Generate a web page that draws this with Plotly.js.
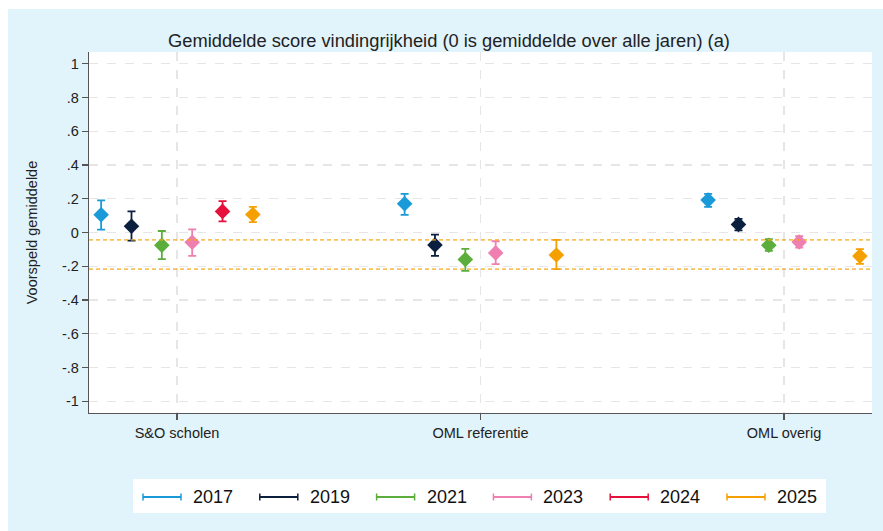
<!DOCTYPE html>
<html>
<head>
<meta charset="utf-8">
<script src="https://cdn.plot.ly/plotly-3.0.1.min.js"></script>
<style>html,body{margin:0;padding:0;background:#fff;}#chart{width:883px;height:531px;}</style>
</head>
<body>
<div id="chart"></div>
<script>
// ---- data ----
const categories = ["S&O scholen", "OML referentie", "OML overig"];
const years = ["2017", "2019", "2021", "2023", "2024", "2025"];
const colors = ["#1A9AD8", "#0B1F3F", "#5BAE3C", "#EE7FB0", "#E5113A", "#F5A000"];

// point estimates per year, per category
const est2017 = [0.105, 0.170, 0.192];
const est2019 = [0.037, -0.074, 0.048];
const est2021 = [-0.076, -0.160, -0.076];
const est2023 = [-0.058, -0.121, -0.056];
const est2024 = [0.125, null, null];
const est2025 = [0.107, -0.133, -0.140];

// lower bounds of the confidence intervals
const lo2017 = [0.017, 0.105, 0.152];
const lo2019 = [-0.048, -0.139, 0.013];
const lo2021 = [-0.158, -0.227, -0.109];
const lo2023 = [-0.139, -0.188, -0.090];
const lo2024 = [0.066, null, null];
const lo2025 = [0.062, -0.217, -0.186];

// upper bounds of the confidence intervals
const hi2017 = [0.190, 0.229, 0.229];
const hi2019 = [0.125, -0.013, 0.081];
const hi2021 = [0.009, -0.097, -0.040];
const hi2023 = [0.019, -0.052, -0.022];
const hi2024 = [0.186, null, null];
const hi2025 = [0.152, -0.044, -0.099];

const yTickVals = [1, 0.8, 0.6, 0.4, 0.2, 0, -0.2, -0.4, -0.6, -0.8, -1];
const yTickText = ["1", ".8", ".6", ".4", ".2", "0", "-.2", "-.4", "-.6", "-.8", "-1"];

const ests = [est2017, est2019, est2021, est2023, est2024, est2025];
const los = [lo2017, lo2019, lo2021, lo2023, lo2024, lo2025];
const his = [hi2017, hi2019, hi2021, hi2023, hi2024, hi2025];

const FONT = "Liberation Sans, Arial, sans-serif";
const catPos = categories.map((c, i) => i + 1);

const traces = years.map((yr, s) => {
  const off = (s - (years.length - 1) / 2) * 0.1;
  const est = ests[s];
  return {
    type: "scatter",
    mode: "markers",
    name: yr,
    showlegend: false,
    x: catPos.map(p => p + off),
    y: est,
    marker: {symbol: "diamond", size: 12, color: colors[s]},
    error_y: {
      type: "data", symmetric: false,
      array: est.map((v, i) => v == null ? null : his[s][i] - v),
      arrayminus: est.map((v, i) => v == null ? null : v - los[s][i]),
      color: colors[s], thickness: 1.8, width: 4
    },
    hoverinfo: "x+y"
  };
});

// figure geometry (pixels)
const W = 883, H = 531;
const mL = 89, mR = 11, mT = 52, mB = 118;
const pw = W - mL - mR, ph = H - mT - mB;
const px = x => (x - mL) / pw;
const py = y => (H - mB - y) / ph;

const shapes = [
  {type: "rect", xref: "paper", yref: "paper", x0: px(8), x1: px(W + 2), y0: py(9), y1: py(H + 2),
   fillcolor: "#E1F3FB", line: {width: 0}, layer: "below"},
  {type: "rect", xref: "paper", yref: "paper", x0: 0, x1: 1, y0: 0, y1: 1,
   fillcolor: "#FFFFFF", line: {width: 0}, layer: "below"},
  {type: "rect", xref: "paper", yref: "paper", x0: px(133), x1: px(826), y0: py(479), y1: py(513),
   fillcolor: "#FFFFFF", line: {width: 0}, layer: "below"}
];

// reference lines: CI of OML referentie 2025
const refIdx = years.indexOf("2025");
[los[refIdx][1], his[refIdx][1]].forEach(v => {
  shapes.push({type: "line", xref: "paper", yref: "y", x0: 0, x1: 1, y0: v, y1: v,
    line: {color: "rgba(245,165,20,0.7)", width: 1.6, dash: "4px,3px"}, layer: "above"});
});

// custom legend (error-bar style keys)
const annotations = [];
const legY = py(497);
const capH = 3.5 / ph;
years.forEach((yr, s) => {
  const x0 = 143 + s * 116.8, x1 = x0 + 38;
  shapes.push({type: "line", xref: "paper", yref: "paper", x0: px(x0), x1: px(x1), y0: legY, y1: legY,
    line: {color: colors[s], width: 1.8}});
  [x0, x1].forEach(xx => shapes.push({type: "line", xref: "paper", yref: "paper",
    x0: px(xx), x1: px(xx), y0: legY - capH, y1: legY + capH, line: {color: colors[s], width: 1.5}}));
  annotations.push({xref: "paper", yref: "paper", x: px(x1 + 10), y: legY, xanchor: "left", yanchor: "middle",
    text: yr, showarrow: false, font: {family: FONT, size: 18, color: "#111"}});
});

const layout = {
  width: W, height: H,
  margin: {l: mL, r: mR, t: mT, b: mB, pad: 0},
  paper_bgcolor: "#FFFFFF",
  plot_bgcolor: "rgba(0,0,0,0)",
  showlegend: false,
  font: {family: FONT, color: "#222"},
  title: {text: "Gemiddelde score vindingrijkheid (0 is gemiddelde over alle jaren) (a)",
    font: {family: FONT, size: 18.3, color: "#222"},
    xref: "container", yref: "container", x: 449 / W, xanchor: "center", y: 1 - 41 / H, yanchor: "middle"},
  xaxis: {
    range: [0.71, 3.29], tickvals: catPos, ticktext: categories,
    showline: true, linecolor: "#555", linewidth: 1.3, mirror: false,
    ticks: "outside", ticklen: 6, tickcolor: "#555", tickwidth: 1.3,
    tickfont: {family: FONT, size: 14.5, color: "#222"},
    showgrid: true, gridcolor: "#E6E6E6", gridwidth: 1.3, griddash: "dash",
    zeroline: false, fixedrange: true
  },
  yaxis: {
    range: [-1.07, 1.07], tickvals: yTickVals, ticktext: yTickText,
    showline: true, linecolor: "#555", linewidth: 1.3,
    ticks: "outside", ticklen: 6, tickcolor: "#555", tickwidth: 1.3,
    tickfont: {family: FONT, size: 14.5, color: "#222"},
    showgrid: true, gridcolor: "#E6E6E6", gridwidth: 1.3, griddash: "dash",
    zeroline: false, fixedrange: true,
    title: {text: "Voorspeld gemiddelde", font: {family: FONT, size: 14.5, color: "#222"}, standoff: 20}
  },
  shapes: shapes,
  annotations: annotations
};

Plotly.newPlot("chart", traces, layout, {displayModeBar: false, staticPlot: true});
</script>
</body>
</html>
